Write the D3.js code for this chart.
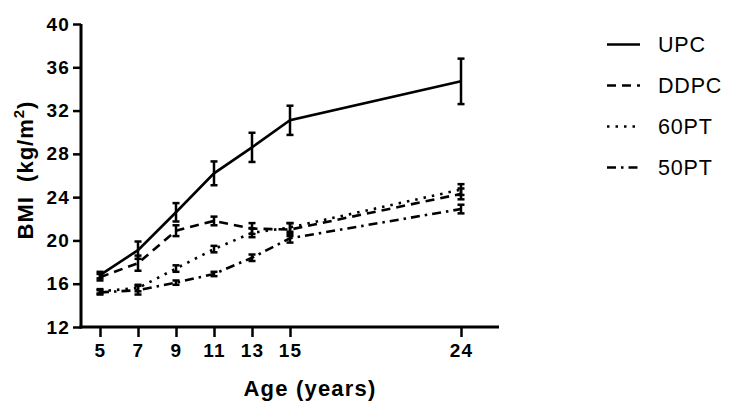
<!DOCTYPE html>
<meta charset="utf-8">
<head>
  <script src="https://d3js.org/d3.v7.min.js"></script>
  <style>
    body { margin: 0; background: #fff; }
    svg text { font-family: "Liberation Sans", Arial, sans-serif; fill: #000; }
  </style>
</head>
<body>
<svg width="739" height="415"></svg>
<script>
  // data
  var ages = [5, 7, 9, 11, 13, 15, 24];
  var seriesNames = ["UPC", "DDPC", "60PT", "50PT"];
  var upc = [16.8, 19.1, 22.6, 26.2, 28.6, 31.1, 34.7];
  var upcErr = [0.3, 0.8, 0.85, 1.1, 1.35, 1.35, 2.1];
  var ddpc = [16.6, 17.9, 20.9, 21.8, 21.1, 21.0, 24.3];
  var ddpcErr = [0.3, 0.7, 0.5, 0.4, 0.5, 0.6, 0.5];
  var pt60 = [15.3, 15.6, 17.4, 19.2, 20.7, 21.2, 24.7];
  var pt60Err = [0.2, 0.3, 0.3, 0.3, 0.4, 0.4, 0.5];
  var pt50 = [15.2, 15.4, 16.1, 16.9, 18.4, 20.2, 22.9];
  var pt50Err = [0.2, 0.4, 0.2, 0.2, 0.3, 0.4, 0.4];
  var yTicks = [12, 16, 20, 24, 28, 32, 36, 40];

  var dashes = ["none", "9,6", "2.5,6", "9,5,2.5,5"];
  var series = [
    {name: seriesNames[0], vals: upc, err: upcErr},
    {name: seriesNames[1], vals: ddpc, err: ddpcErr},
    {name: seriesNames[2], vals: pt60, err: pt60Err},
    {name: seriesNames[3], vals: pt50, err: pt50Err}
  ];

  var svg = d3.select("svg");
  var x = d3.scaleLinear().domain([4, 26]).range([81, 499]);
  var y = d3.scaleLinear().domain([12, 40]).range([327, 24]);

  // axes
  var xAxis = svg.append("g")
    .attr("transform", "translate(0,327)")
    .call(d3.axisBottom(x).tickValues(ages).tickSize(10).tickPadding(7).tickSizeOuter(0));
  var yAxis = svg.append("g")
    .attr("transform", "translate(81,0)")
    .call(d3.axisLeft(y).tickValues(yTicks).tickSize(8).tickPadding(3).tickSizeOuter(0));

  [xAxis, yAxis].forEach(function(g) {
    g.select(".domain").attr("stroke", "#000").attr("stroke-width", 3);
    g.selectAll(".tick line").attr("stroke", "#000").attr("stroke-width", 2.5);
    g.selectAll(".tick text")
      .style("font-family", "'Liberation Sans', Arial, sans-serif")
      .style("font-weight", "bold")
      .style("font-size", "19px")
      .style("letter-spacing", "1.2px")
      .attr("fill", "#000");
  });
  // close the corner where the two axes meet
  xAxis.select(".domain").attr("d", "M79.5,0H499");
  yAxis.select(".domain").attr("d", "M0,24V328.5");

  var line = d3.line()
    .x(function(d) { return x(d[0]); })
    .y(function(d) { return y(d[1]); });

  series.forEach(function(s, i) {
    var pts = ages.map(function(a, j) { return [a, s.vals[j], s.err[j]]; });
    svg.append("path")
      .datum(pts)
      .attr("d", line)
      .attr("fill", "none")
      .attr("stroke", "#000")
      .attr("stroke-width", 2.6)
      .attr("stroke-dasharray", dashes[i]);

    var eb = svg.append("g").attr("stroke", "#000").attr("stroke-width", 2.5);
    eb.selectAll("line.v").data(pts).enter().append("line")
      .attr("x1", function(d) { return x(d[0]); })
      .attr("x2", function(d) { return x(d[0]); })
      .attr("y1", function(d) { return y(d[1] - d[2]); })
      .attr("y2", function(d) { return y(d[1] + d[2]); });
    eb.selectAll("line.top").data(pts).enter().append("line")
      .attr("x1", function(d) { return x(d[0]) - 3.5; })
      .attr("x2", function(d) { return x(d[0]) + 3.5; })
      .attr("y1", function(d) { return y(d[1] + d[2]); })
      .attr("y2", function(d) { return y(d[1] + d[2]); });
    eb.selectAll("line.bot").data(pts).enter().append("line")
      .attr("x1", function(d) { return x(d[0]) - 3.5; })
      .attr("x2", function(d) { return x(d[0]) + 3.5; })
      .attr("y1", function(d) { return y(d[1] - d[2]); })
      .attr("y2", function(d) { return y(d[1] - d[2]); });
  });

  // axis titles
  svg.append("text")
    .attr("x", 310).attr("y", 396)
    .attr("text-anchor", "middle")
    .style("font-weight", "bold").style("font-size", "22px")
    .style("letter-spacing", "1.2px")
    .text("Age (years)");

  var yl = svg.append("text")
    .attr("transform", "translate(33,170) rotate(-90)")
    .attr("text-anchor", "middle")
    .style("font-weight", "bold").style("font-size", "22px")
    .style("letter-spacing", "1px")
    .attr("xml:space", "preserve");
  yl.append("tspan").text("BMI  (kg/m");
  yl.append("tspan").attr("dy", -9).style("font-size", "15px").text("2");
  yl.append("tspan").attr("dy", 9).text(")");

  // legend
  var leg = svg.append("g");
  series.forEach(function(s, i) {
    var ly = 44.5 + i * 41;
    leg.append("line")
      .attr("x1", 607).attr("x2", 640)
      .attr("y1", ly).attr("y2", ly)
      .attr("stroke", "#000").attr("stroke-width", 2.6)
      .attr("stroke-dasharray", dashes[i]);
    leg.append("text")
      .attr("x", 658).attr("y", ly + 7.5)
      .style("font-size", "21.5px")
      .style("letter-spacing", "0.8px")
      .text(s.name);
  });
</script>
</body>
</html>
